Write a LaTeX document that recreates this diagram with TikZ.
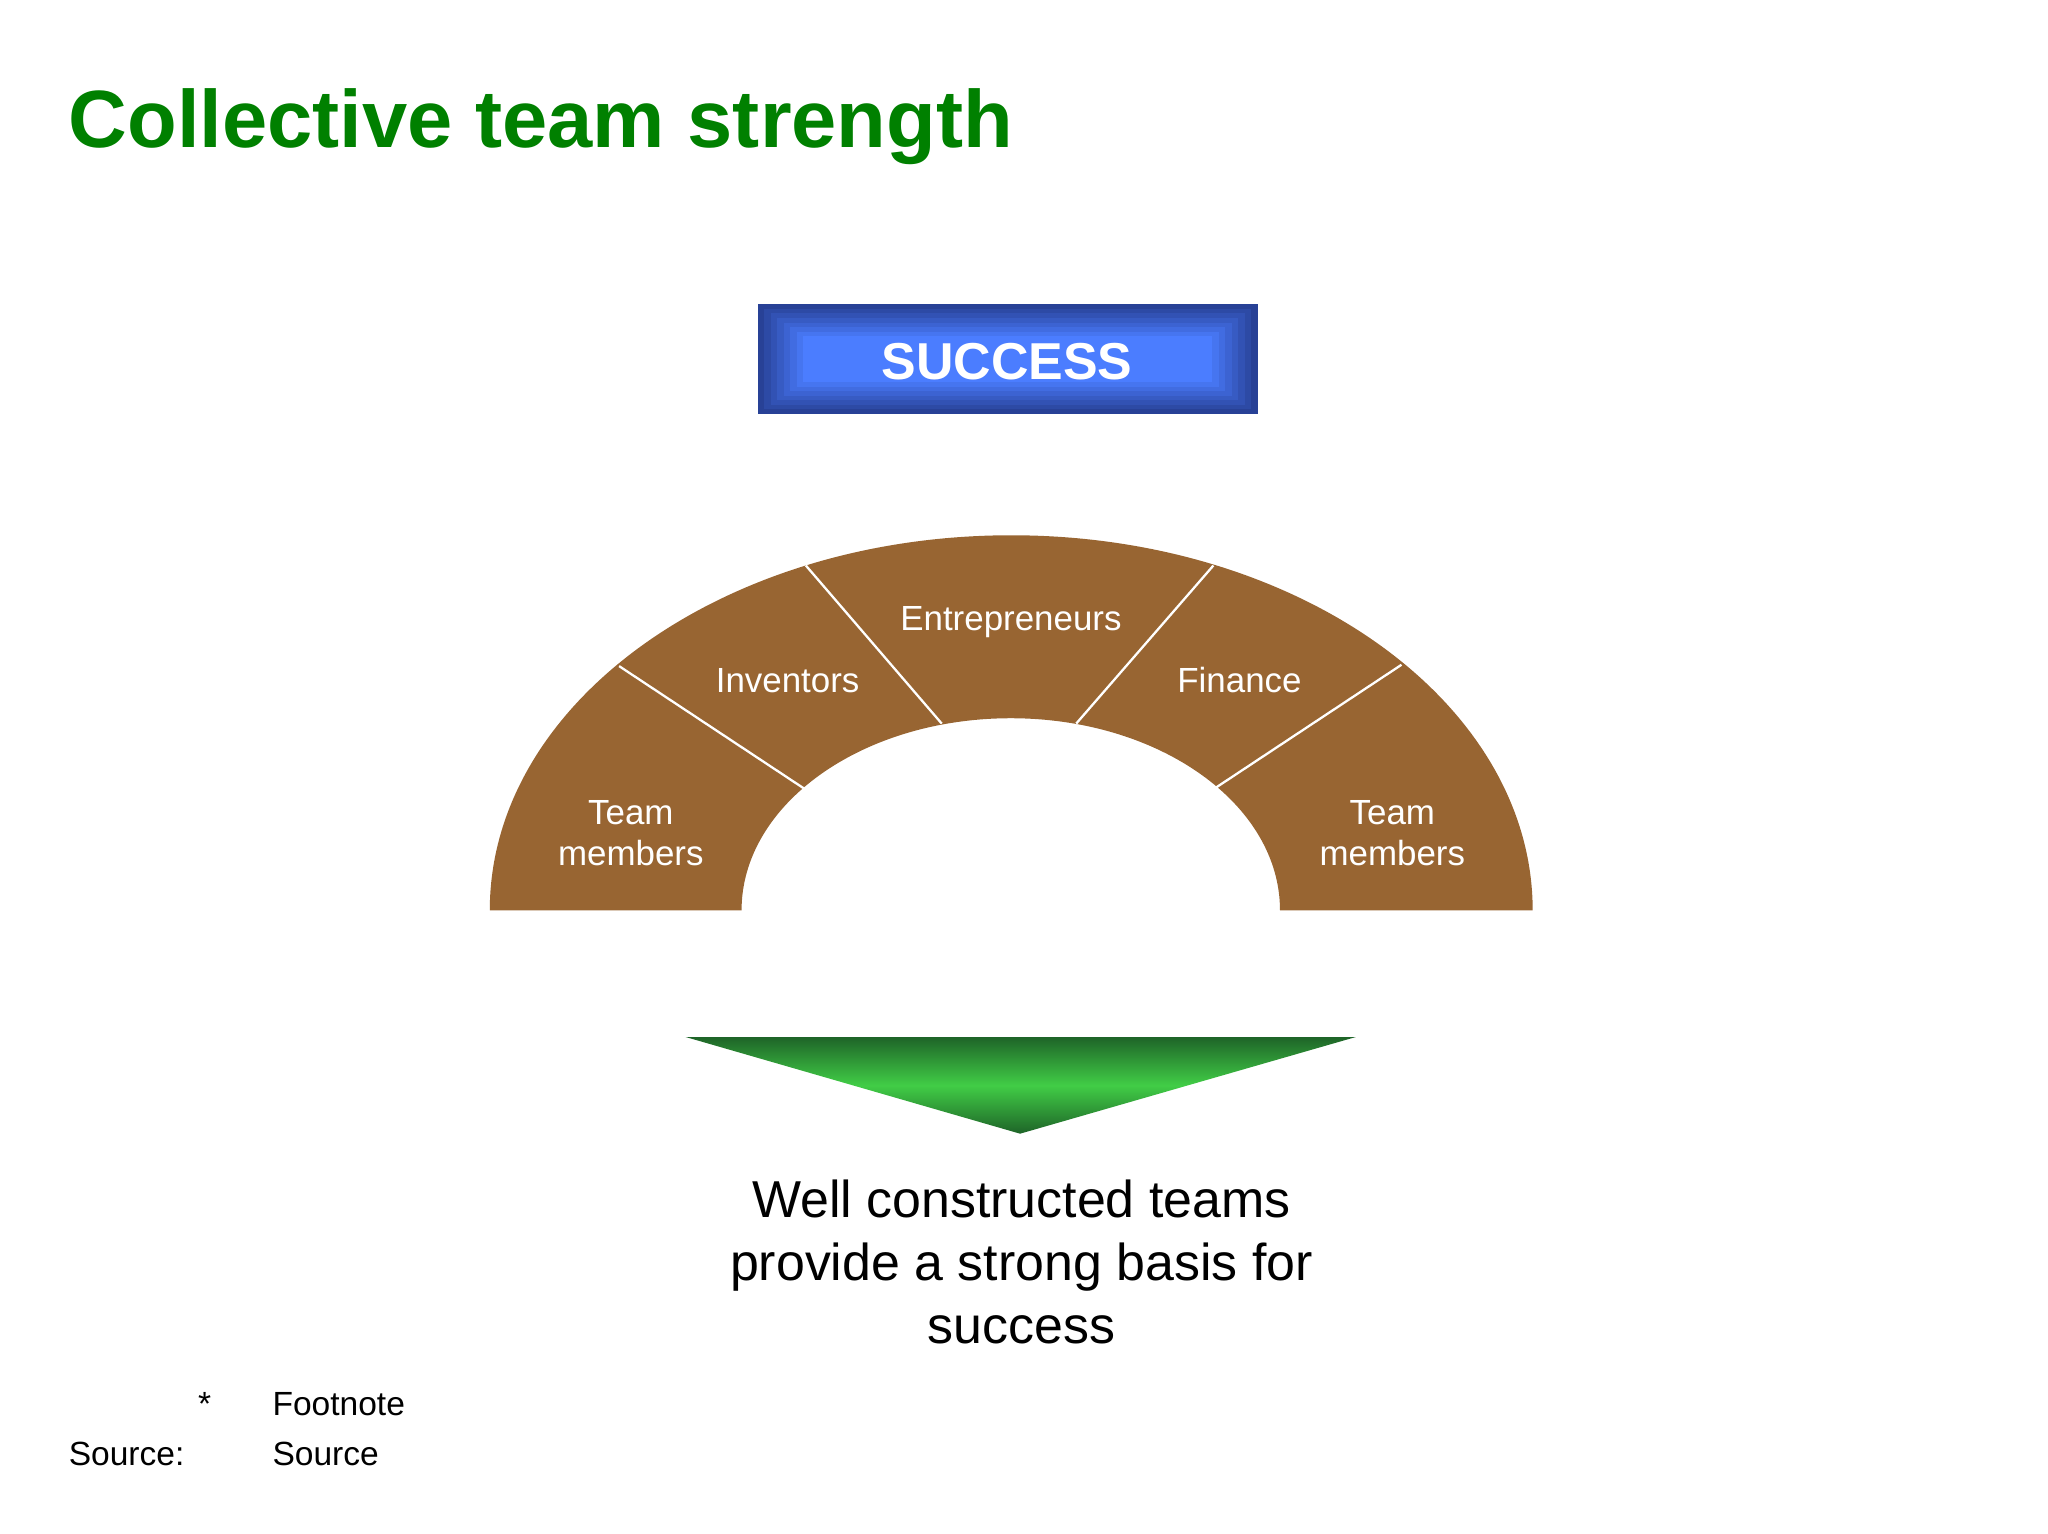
\documentclass[tikz,border=0pt]{standalone}
\usepackage{fontspec}
\setmainfont{Liberation Sans}
\definecolor{ttl}{RGB}{0,128,0}
\definecolor{brn}{RGB}{152,101,50}
\definecolor{bdark}{RGB}{40,65,150}
\definecolor{blight}{RGB}{75,125,255}
\definecolor{gdark}{RGB}{30,100,40}
\definecolor{gbright}{RGB}{65,205,70}
\begin{document}
\begin{tikzpicture}[x=0.01cm,y=-0.01cm,
  seg/.style={text=white,font=\fontsize{7.6}{9}\selectfont,align=center},
  sep/.style={draw=white,line width=0.5pt}]
\useasboundingbox (0,0) rectangle (1568,1174);
\node[anchor=base west,text=ttl,font=\fontsize{17.7}{21}\bfseries\selectfont,inner sep=0] (title) at (52,113) {Collective team strength};
% success box
\foreach \i in {0,...,7}{
  \pgfmathsetmacro{\p}{\i*100/7}
  \fill[blight!\p!bdark] (580+\i*5,233+\i*3.5) rectangle (963-\i*5,317-\i*3.5);
}
\node[text=white,font=\fontsize{11.3}{13}\bfseries\selectfont] (succ) at (771,277) {SUCCESS};
% arch
\fill[brn] (375,697) arc[start angle=180,end angle=0,x radius=3.99cm,y radius=2.87cm] -- (980,697) arc[start angle=0,end angle=180,x radius=2.06cm,y radius=1.47cm] -- cycle;
\coordinate (o1) at (474,510); \coordinate (i1) at (616,604);
\coordinate (o2) at (617,433); \coordinate (i2) at (721,554);
\coordinate (o3) at (929,433); \coordinate (i3) at (824,554);
\coordinate (o4) at (1073,509); \coordinate (i4) at (931,603);
\draw[sep] (o1)--(i1); \draw[sep] (o2)--(i2); \draw[sep] (o3)--(i3); \draw[sep] (o4)--(i4);
\node[seg] (tm1) at (483,638) {Team\\members};
\node[seg] (inv) at (603,521) {Inventors};
\node[seg] (ent) at (774,476) {Entrepreneurs};
\node[seg] (fin) at (949,521) {Finance};
\node[seg] (tm2) at (1066,638) {Team\\members};
% triangle
\begin{scope}
\clip (525,794) -- (1038,794) -- (781,868) -- cycle;
\shade[top color=gdark,bottom color=gdark,middle color=gbright] (525,794) rectangle (1038,868);
\end{scope}
\node[font=\fontsize{11.3}{13.7}\selectfont,align=center] (txt) at (782,966) {Well constructed teams\\provide a strong basis for\\success};
\node[anchor=base west,font=\fontsize{7.3}{9}\selectfont,inner sep=0] (st) at (151,1084) {*};
\node[anchor=base west,font=\fontsize{7.3}{9}\selectfont,inner sep=0] (fn) at (208,1084) {Footnote};
\node[anchor=base west,font=\fontsize{7.3}{9}\selectfont,inner sep=0] (sl) at (52,1122) {Source:};
\node[anchor=base west,font=\fontsize{7.3}{9}\selectfont,inner sep=0] (sr) at (208,1122) {Source};
\end{tikzpicture}
\end{document}
